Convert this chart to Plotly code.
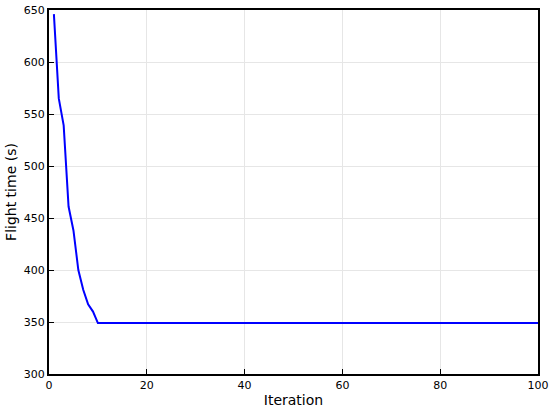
import plotly.graph_objects as go

# Flight time per optimisation iteration
iterations = list(range(1, 101))
first_values = [646, 565, 539, 461, 438, 400, 381, 367, 360, 349]
flight_time = first_values + [349] * (len(iterations) - len(first_values))

fig = go.Figure()
fig.add_trace(
    go.Scatter(
        x=iterations,
        y=flight_time,
        mode="lines",
        line={"color": "#0000ff", "width": 2},
        showlegend=False,
    )
)

axis_style = dict(
    showline=True,
    linecolor="black",
    linewidth=2,
    mirror=True,
    ticks="inside",
    ticklen=5,
    tickcolor="black",
    showgrid=True,
    gridcolor="#e6e6e6",
    gridwidth=1,
    zeroline=False,
    automargin=False,
    tickfont={"size": 11, "color": "black"},
)

fig.update_layout(
    width=550,
    height=411,
    paper_bgcolor="white",
    plot_bgcolor="white",
    margin={"l": 49, "r": 12, "t": 10, "b": 37},
    font={"family": "DejaVu Sans", "color": "black"},
    xaxis=dict(
        axis_style,
        range=[0, 100],
        dtick=20,
        title={"text": "Iteration", "font": {"size": 14}, "standoff": 4},
    ),
    yaxis=dict(
        axis_style,
        range=[300, 650],
        dtick=50,
        title={"text": "Flight time (s)", "font": {"size": 14}, "standoff": 4},
    ),
)

# drop the default body margin so the figure sits at the window's corner
fig.write_html(
    "out.html",
    config={"displayModeBar": False},
    post_script="document.body.style.margin = '0';",
)
